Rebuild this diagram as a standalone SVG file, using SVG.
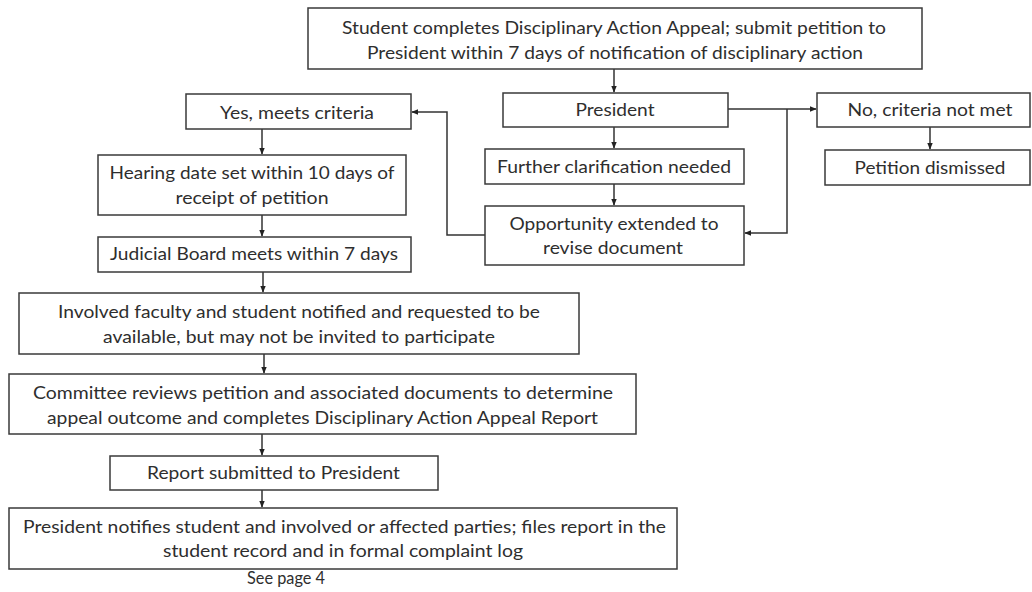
<svg xmlns="http://www.w3.org/2000/svg" width="1032" height="592" viewBox="0 0 1032 592">
<style>
.box{fill:#fff;stroke:#3a3a3a;stroke-width:1.5}
.t{font-family:Lato,"Open Sans","Liberation Sans",sans-serif;font-size:17px;fill:#2e2e2e;text-anchor:middle}
.c{fill:none;stroke:#333;stroke-width:1.5}
</style>
<defs>
<marker id="ah" viewBox="0 0 10 10" refX="9" refY="5" markerWidth="7" markerHeight="7" markerUnits="userSpaceOnUse" orient="auto">
<path d="M0,1 L10,5 L0,9 Z" fill="#222"/>
</marker>
</defs>
<rect width="1032" height="592" fill="#fff"/>
<g id="connectors">
<path class="c" d="M614,69 V92" marker-end="url(#ah)"/>
<path class="c" d="M614,127 V148" marker-end="url(#ah)"/>
<path class="c" d="M614,184 V205" marker-end="url(#ah)"/>
<path class="c" d="M728,109 H816" marker-end="url(#ah)"/>
<path class="c" d="M787,109 V233 H745" marker-end="url(#ah)"/>
<path class="c" d="M485,235 H447 V112 H412" marker-end="url(#ah)"/>
<path class="c" d="M930,127 V149" marker-end="url(#ah)"/>
<path class="c" d="M262,129 V154" marker-end="url(#ah)"/>
<path class="c" d="M262,215 V236" marker-end="url(#ah)"/>
<path class="c" d="M263,272 V292" marker-end="url(#ah)"/>
<path class="c" d="M264,354 V373" marker-end="url(#ah)"/>
<path class="c" d="M262,434 V455" marker-end="url(#ah)"/>
<path class="c" d="M262,490 V507" marker-end="url(#ah)"/>
</g>
<g id="n-start">
<rect class="box" x="308" y="8" width="614" height="61"/>
<text class="t" x="614" y="34" textLength="544" lengthAdjust="spacingAndGlyphs">Student completes Disciplinary Action Appeal; submit petition to</text>
<text class="t" x="615" y="59" textLength="496" lengthAdjust="spacingAndGlyphs">President within 7 days of notification of disciplinary action</text>
</g>
<g id="n-president">
<rect class="box" x="503" y="93" width="225" height="34"/>
<text class="t" x="615" y="116" textLength="79" lengthAdjust="spacingAndGlyphs">President</text>
</g>
<g id="n-further">
<rect class="box" x="485" y="149" width="259" height="35"/>
<text class="t" x="614" y="173" textLength="234" lengthAdjust="spacingAndGlyphs">Further clarification needed</text>
</g>
<g id="n-opportunity">
<rect class="box" x="485" y="206" width="259" height="59"/>
<text class="t" x="614" y="230" textLength="209" lengthAdjust="spacingAndGlyphs">Opportunity extended to</text>
<text class="t" x="613" y="254" textLength="140" lengthAdjust="spacingAndGlyphs">revise document</text>
</g>
<g id="n-no">
<rect class="box" x="817" y="93" width="213" height="34"/>
<text class="t" x="930" y="116" textLength="165" lengthAdjust="spacingAndGlyphs">No, criteria not met</text>
</g>
<g id="n-dismissed">
<rect class="box" x="825" y="150" width="205" height="35"/>
<text class="t" x="930" y="174" textLength="151" lengthAdjust="spacingAndGlyphs">Petition dismissed</text>
</g>
<g id="n-yes">
<rect class="box" x="186" y="94" width="225" height="35"/>
<text class="t" x="297" y="119" textLength="154" lengthAdjust="spacingAndGlyphs">Yes, meets criteria</text>
</g>
<g id="n-hearing">
<rect class="box" x="98" y="155" width="308" height="60"/>
<text class="t" x="252" y="179" textLength="285" lengthAdjust="spacingAndGlyphs">Hearing date set within 10 days of</text>
<text class="t" x="252" y="204" textLength="153" lengthAdjust="spacingAndGlyphs">receipt of petition</text>
</g>
<g id="n-judicial">
<rect class="box" x="98" y="237" width="313" height="35"/>
<text class="t" x="254" y="260" textLength="288" lengthAdjust="spacingAndGlyphs">Judicial Board meets within 7 days</text>
</g>
<g id="n-involved">
<rect class="box" x="19" y="293" width="560" height="61"/>
<text class="t" x="299" y="318" textLength="482" lengthAdjust="spacingAndGlyphs">Involved faculty and student notified and requested to be</text>
<text class="t" x="299" y="343" textLength="392" lengthAdjust="spacingAndGlyphs">available, but may not be invited to participate</text>
</g>
<g id="n-committee">
<rect class="box" x="9" y="374" width="627" height="60"/>
<text class="t" x="323" y="399" textLength="580" lengthAdjust="spacingAndGlyphs">Committee reviews petition and associated documents to determine</text>
<text class="t" x="322.5" y="424" textLength="551" lengthAdjust="spacingAndGlyphs">appeal outcome and completes Disciplinary Action Appeal Report</text>
</g>
<g id="n-report">
<rect class="box" x="110" y="456" width="328" height="34"/>
<text class="t" x="273.5" y="479" textLength="253" lengthAdjust="spacingAndGlyphs">Report submitted to President</text>
</g>
<g id="n-notify">
<rect class="box" x="9" y="508" width="668" height="61"/>
<text class="t" x="344.5" y="533" textLength="643" lengthAdjust="spacingAndGlyphs">President notifies student and involved or affected parties; files report in the</text>
<text class="t" x="343" y="557" textLength="360" lengthAdjust="spacingAndGlyphs">student record and in formal complaint log</text>
</g>
<g id="see-page">
<text class="t" x="286" y="584" textLength="78" lengthAdjust="spacingAndGlyphs">See page 4</text>
</g>
</svg>
